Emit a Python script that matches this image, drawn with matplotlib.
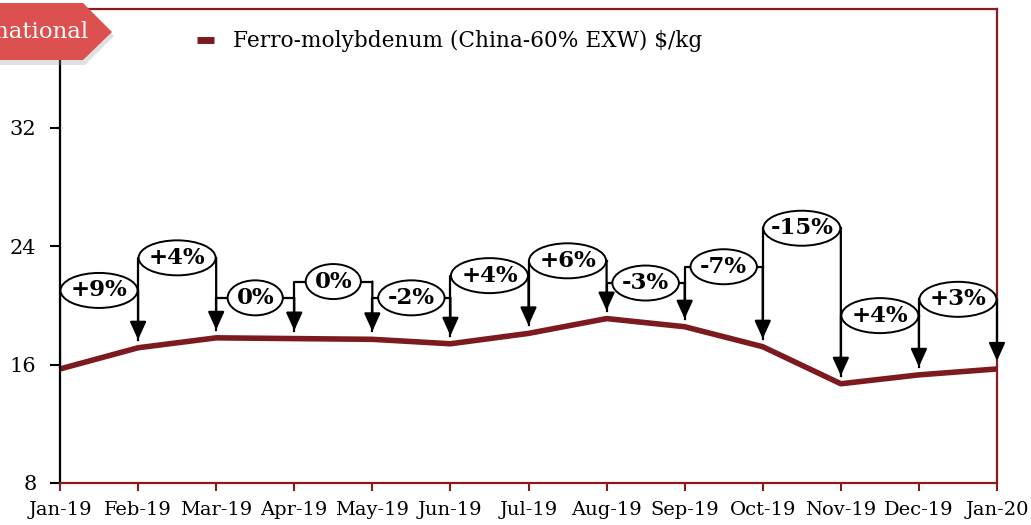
import matplotlib
matplotlib.use('Agg')
import matplotlib.pyplot as plt
from matplotlib.patches import Ellipse, Polygon

months = ['Jan-19', 'Feb-19', 'Mar-19', 'Apr-19', 'May-19', 'Jun-19', 'Jul-19',
          'Aug-19', 'Sep-19', 'Oct-19', 'Nov-19', 'Dec-19', 'Jan-20']
prices = [15.7, 17.13, 17.8, 17.75, 17.7, 17.4, 18.1, 19.1, 18.55, 17.2, 14.7, 15.3, 15.7]
change_labels = ['+9%', '+4%', '0%', '0%', '-2%', '+4%', '+6%', '-3%', '-7%', '-15%', '+4%', '+3%']
bridge_levels = [21.0, 23.2, 20.5, 21.6, 20.5, 22.0, 23.0, 21.5, 22.6, 25.2, 19.3, 20.4]
series_name = 'Ferro-molybdenum (China-60% EXW) $/kg'
yticks = [8, 16, 24, 32]
banner_text = 'International'

W, H = 1031, 525
SERIF = 'DejaVu Serif'
DARKRED = '#8B1A1A'
LINE = '#7D1A20'

fig = plt.figure(figsize=(W / 100, H / 100), dpi=100)
ax = fig.add_axes([60 / W, 1 - 483 / H, (997 - 60) / W, (483 - 9) / H])

x = list(range(len(months)))
ax.plot(x, prices, color=LINE, lw=4.0, solid_capstyle='butt', zorder=3, label=series_name)

ax.set_xlim(0, len(months) - 1)
ax.set_ylim(8, 40)
ax.set_xticks(x)
ax.set_xticklabels(months, fontfamily=SERIF, fontsize=14)
ax.set_yticks(yticks)
ax.set_yticklabels([str(v) for v in yticks], fontfamily=SERIF, fontsize=15)
ax.tick_params(axis='x', direction='out', length=6, width=1.5, color=DARKRED, pad=7)
ax.tick_params(axis='y', direction='out', length=7, width=1.5, color='black', pad=10)
for s in ['top', 'right', 'bottom']:
    ax.spines[s].set_color(DARKRED)
    ax.spines[s].set_linewidth(1.6)
ax.spines['left'].set_color('black')
ax.spines['left'].set_linewidth(1.6)

fig.canvas.draw()
renderer = fig.canvas.get_renderer()
px_x = ax.transData.transform((1, 0))[0] - ax.transData.transform((0, 0))[0]
px_y = ax.transData.transform((0, 9))[1] - ax.transData.transform((0, 8))[1]

gap = 8 / px_y
ell_h = 35 / px_y
for i, lab in enumerate(change_labels):
    x0, x1 = i, i + 1
    lvl = bridge_levels[i]
    xc = (x0 + x1) / 2
    t = ax.text(xc, lvl, lab, ha='center', va='center', fontfamily=SERIF,
                fontweight='bold', fontsize=16.5, zorder=6)
    tw = t.get_window_extent(renderer).width
    ew_px = min(tw * 1.2 + 10, 77)
    ew = ew_px / px_x
    ax.add_patch(Ellipse((xc, lvl), ew, ell_h, facecolor='white', edgecolor='black',
                         lw=1.4, zorder=5))
    start = prices[i] if i == 0 else prices[i] + gap
    ax.plot([x0, x0, xc - ew / 2], [start, lvl, lvl], color='black', lw=1.6, zorder=4)
    ax.plot([xc + ew / 2, x1], [lvl, lvl], color='black', lw=1.6, zorder=4)
    ax.annotate('', xy=(x1, prices[i + 1] + gap), xytext=(x1, lvl),
                arrowprops=dict(arrowstyle='-|>,head_length=1.1,head_width=0.5',
                                lw=1.6, color='black', shrinkA=0, shrinkB=0),
                zorder=4)

leg = ax.legend(loc='upper left', bbox_to_anchor=(197 / W, 1 - 30 / H),
                bbox_transform=fig.transFigure, frameon=False,
                prop={'family': SERIF, 'size': 15.6}, handlelength=0.8,
                handletextpad=0.85, borderpad=0, borderaxespad=0)
for h in leg.get_lines():
    h.set_linewidth(5)

# banner at top-left
def fig_px(pts):
    return [(px / W, 1 - py / H) for px, py in pts]

shadow = Polygon(fig_px([(0, 7), (85, 7), (114, 36), (85, 65), (0, 65)]),
                 closed=True, transform=fig.transFigure, facecolor='#999999',
                 alpha=0.3, edgecolor='none', zorder=9)
banner = Polygon(fig_px([(0, 3), (83, 3), (112, 32), (83, 60), (0, 60)]),
                 closed=True, transform=fig.transFigure, facecolor='#DC5050',
                 edgecolor='none', zorder=10)
fig.add_artist(shadow)
fig.add_artist(banner)
fig.text(89 / W, 1 - 32 / H, banner_text, ha='right', va='center', color='white',
         fontfamily=SERIF, fontsize=16.5, zorder=11)

fig.savefig('out.png', dpi=100)
